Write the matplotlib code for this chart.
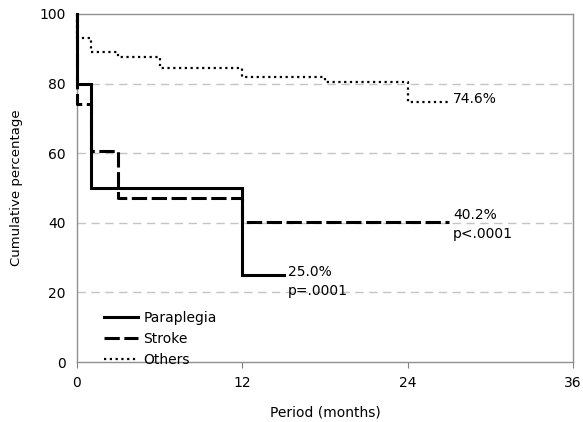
import matplotlib
matplotlib.use("Agg")
import matplotlib.pyplot as plt

# --- data (Kaplan-Meier style steps) ---
para_t = [0, 0, 1, 12, 15]
para_y = [100, 80, 50, 25, 25]

stroke_t = [0, 0, 1, 3, 12, 27]
stroke_y = [100, 74, 60.5, 47, 40.2, 40.2]

others_t = [0, 0, 1, 3, 6, 12, 18, 24, 27]
others_y = [100, 93, 89, 87.5, 84.5, 82, 80.4, 74.6, 74.6]

x_ticks = [0, 12, 24, 36]
y_ticks = [0, 20, 40, 60, 80, 100]

plt.rcParams['font.family'] = ['DejaVu Sans']

fig = plt.figure(figsize=(5.83, 4.22), dpi=100)
ax = fig.add_axes([0.132, 0.142, 0.851, 0.825])

# grid lines
for g in [20, 40, 60, 80]:
    ax.axhline(g, color='#c4c4c4', lw=1, linestyle=(0, (6, 4)), zorder=0)

ax.step(others_t, others_y, where='post', color='black', lw=1.6,
        linestyle=(0, (1, 1.6)), label='Others', clip_on=False, zorder=3)
ax.step(stroke_t, stroke_y, where='post', color='black', lw=2.2,
        linestyle=(0, (5, 1.5)), label='Stroke', clip_on=False, zorder=3)
ax.step(para_t, para_y, where='post', color='black', lw=2.2, label='Paraplegia',
        solid_joinstyle='miter', clip_on=False, zorder=3)

# end-of-curve labels
ax.text(27.3, 75.5, '74.6%', fontsize=10, va='center')
ax.text(27.3, 42.3, '40.2%', fontsize=10, va='center')
ax.text(27.3, 36.8, 'p<.0001', fontsize=10, va='center')
ax.text(15.3, 25.8, '25.0%', fontsize=10, va='center')
ax.text(15.3, 20.4, 'p=.0001', fontsize=10, va='center')

ax.set_xlim(0, 36)
ax.set_ylim(0, 100)
ax.set_xticks(x_ticks)
ax.set_yticks(y_ticks)
ax.tick_params(axis='x', direction='out', length=4, color='#808080', labelsize=10, pad=6)
ax.tick_params(axis='y', length=0, labelsize=10, pad=8)

for s in ax.spines.values():
    s.set_color('#909090')
    s.set_linewidth(1)

ax.set_xlabel('Period (months)', fontsize=10, labelpad=11)
ax.set_ylabel('Cumulative percentage', fontsize=9.5, labelpad=12)

handles, labels = ax.get_legend_handles_labels()
ax.legend(handles[::-1], labels[::-1], loc='lower left', bbox_to_anchor=(0.03, -0.05),
          frameon=False, fontsize=10, handlelength=2.4, handletextpad=0.4,
          labelspacing=0.5)

fig.savefig('out.png', dpi=100)
